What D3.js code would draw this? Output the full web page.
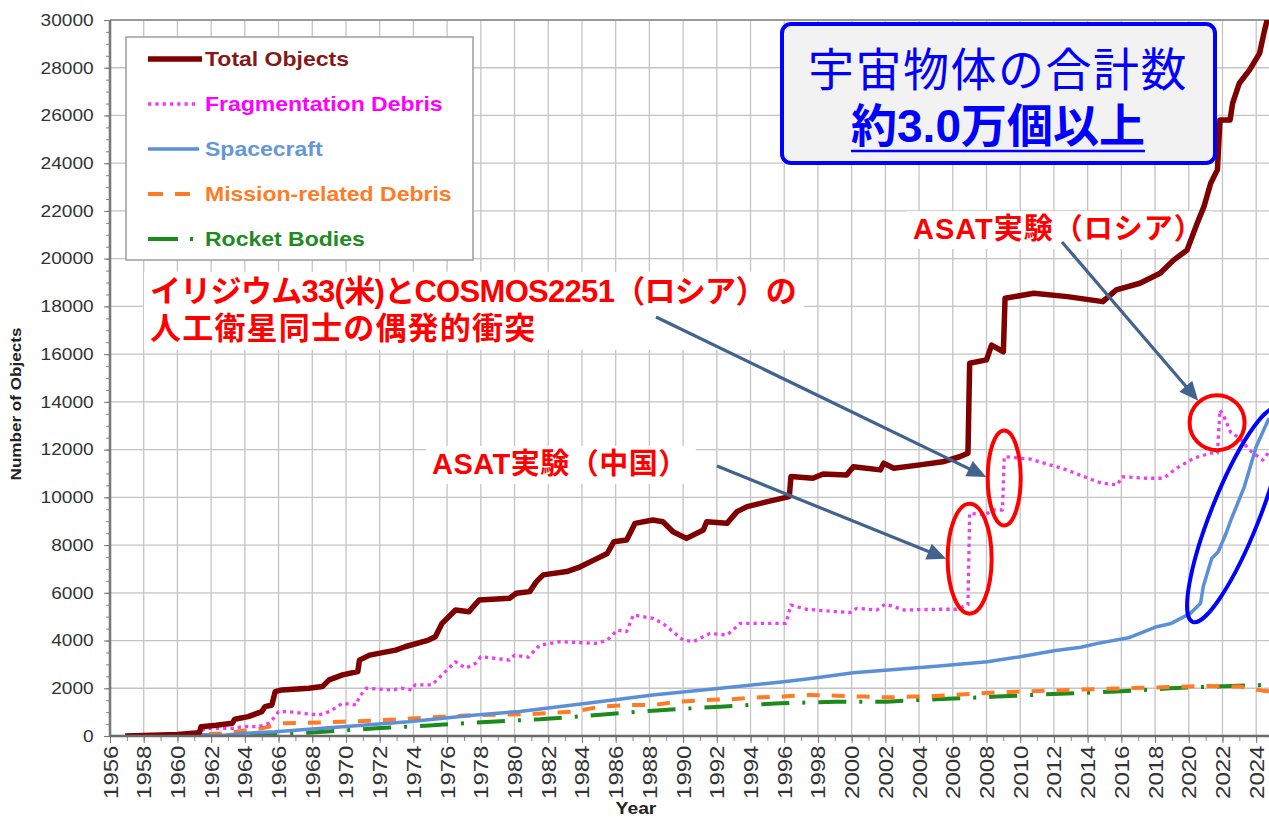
<!DOCTYPE html>
<html>
<head>
<meta charset="utf-8">
<script src="https://cdn.jsdelivr.net/npm/d3@7"></script>
<style>
  body { margin: 0; background: #fff; }
  svg { display: block; }
</style>
</head>
<body>
<div id="chart"></div>
<script>
// values: [year, number of objects]
const totalObjects = [
  [1956.9, 0], [1958.5, 30], [1960.0, 60], [1961.3, 140], [1961.4, 390], [1962.3, 450],
  [1963.25, 530], [1963.4, 700], [1964.2, 810], [1965.0, 1020], [1965.2, 1230], [1965.6, 1300],
  [1965.8, 1860], [1966.2, 1930], [1967.8, 2000], [1968.6, 2070], [1969.0, 2350], [1969.8, 2560],
  [1970.7, 2700], [1970.8, 3180], [1971.4, 3390], [1972.95, 3600], [1973.5, 3740], [1974.9, 4020],
  [1975.3, 4160], [1975.7, 4720], [1976.5, 5280], [1977.3, 5210], [1977.9, 5700], [1979.7, 5770],
  [1980.1, 5980], [1980.9, 6050], [1981.3, 6470], [1981.7, 6750], [1983.1, 6890], [1983.9, 7090],
  [1984.7, 7370], [1985.5, 7650], [1985.9, 8140], [1986.65, 8210], [1987.15, 8910], [1988.2, 9050],
  [1988.8, 8980], [1989.4, 8560], [1990.2, 8280], [1991.2, 8630], [1991.4, 8980], [1992.6, 8910],
  [1993.2, 9400], [1993.8, 9610], [1995.0, 9820], [1996.3, 10030], [1996.4, 10870], [1997.7, 10800],
  [1998.3, 10980], [1999.7, 10940], [2000.1, 11280], [2001.7, 11150], [2001.9, 11430], [2002.5, 11220],
  [2004.05, 11360], [2005.4, 11490], [2006.4, 11700], [2006.9, 11850], [2007.0, 15620], [2008.0, 15760],
  [2008.3, 16380], [2009.0, 16100], [2009.1, 18340], [2010.8, 18550], [2012.8, 18410], [2014.9, 18200],
  [2015.7, 18690], [2017.1, 18970], [2018.3, 19390], [2019.1, 19940], [2019.9, 20360], [2020.5, 21480],
  [2020.9, 22180], [2021.3, 23160], [2021.7, 23720], [2021.85, 25810], [2022.45, 25810], [2022.6, 26510],
  [2023.0, 27350], [2023.6, 27900], [2024.2, 28600], [2024.5, 29580], [2024.76, 30300]
];
const fragmentationDebris = [
  [1961.2, 0], [1961.3, 180], [1961.7, 320], [1963.3, 320], [1963.85, 390], [1964.8, 390],
  [1965.4, 530], [1965.7, 740], [1966.0, 1020], [1966.6, 1020], [1967.4, 950], [1968.4, 880],
  [1969.0, 1020], [1969.8, 1370], [1970.6, 1300], [1970.8, 1650], [1971.2, 2000], [1972.75, 1930],
  [1973.35, 2000], [1973.9, 1930], [1974.1, 2140], [1975.1, 2140], [1975.7, 2560], [1976.5, 3110],
  [1977.1, 2840], [1977.7, 3050], [1978.0, 3320], [1978.9, 3250], [1979.7, 3180], [1980.0, 3390],
  [1980.8, 3300], [1981.5, 3810], [1982.7, 3950], [1984.9, 3880], [1985.5, 4020], [1986.1, 4440],
  [1986.65, 4370], [1987.05, 5070], [1988.2, 4930], [1988.8, 4720], [1990.0, 4020], [1990.6, 3950],
  [1991.6, 4300], [1992.6, 4230], [1993.4, 4720], [1996.1, 4720], [1996.4, 5490], [1997.3, 5310],
  [1999.1, 5210], [1999.9, 5170], [2000.3, 5350], [2001.5, 5280], [2002.0, 5530], [2003.1, 5280],
  [2005.2, 5310], [2006.2, 5310], [2006.9, 5500], [2007.0, 9330], [2007.95, 9260], [2008.3, 9470],
  [2008.95, 9470], [2009.05, 11700], [2009.4, 11680], [2010.6, 11600], [2012.6, 11190], [2014.0, 10810],
  [2014.8, 10600], [2015.76, 10520], [2016.05, 10860], [2017.5, 10800], [2018.5, 10800], [2019.3, 11230],
  [2020.3, 11640], [2021.3, 11850], [2021.7, 11850], [2021.85, 13660], [2022.05, 13450], [2022.5, 12700],
  [2023.0, 12500], [2023.6, 11980], [2024.4, 11560], [2024.76, 11900]
];
const spacecraft = [
  [1957.8, 0], [1960.0, 10], [1962.9, 40], [1963.85, 110], [1965.8, 180], [1969.8, 390],
  [1973.7, 600], [1977.7, 880], [1980.3, 1030], [1984.3, 1370], [1988.2, 1720], [1992.2, 2000],
  [1996.1, 2280], [1997.7, 2420], [2000.1, 2650], [2005.2, 2930], [2008.05, 3110], [2010.0, 3320],
  [2012.0, 3570], [2013.6, 3720], [2014.6, 3880], [2016.5, 4130], [2018.1, 4580], [2018.9, 4700],
  [2020.1, 5140], [2020.7, 5560], [2020.86, 6260], [2021.36, 7440], [2021.75, 7720], [2022.25, 8560],
  [2022.5, 9050], [2023.3, 10450], [2024.0, 12120], [2024.76, 13320]
];
const missionDebris = [
  [1958.9, 0], [1962.5, 100], [1963.45, 180], [1965.0, 320], [1966.2, 530], [1968.6, 570],
  [1969.8, 600], [1971.4, 640], [1973.1, 700], [1975.7, 810], [1977.7, 880], [1979.7, 900],
  [1981.0, 920], [1983.5, 1020], [1985.1, 1230], [1986.65, 1300], [1988.2, 1300], [1989.8, 1440],
  [1991.4, 1510], [1992.8, 1540], [1994.6, 1620], [1995.9, 1650], [1997.5, 1720], [1999.1, 1690],
  [2000.7, 1650], [2002.1, 1620], [2003.7, 1650], [2005.0, 1680], [2007.0, 1760], [2008.6, 1830],
  [2011.8, 1900], [2015.1, 1980], [2018.5, 2040], [2021.1, 2100], [2023.0, 2070], [2024.4, 1900],
  [2024.76, 1870]
];
const rocketBodies = [
  [1957.5, 0], [1962.9, 40], [1965.4, 90], [1967.8, 140], [1971.8, 320], [1974.7, 430],
  [1977.7, 560], [1979.7, 640], [1981.5, 700], [1984.9, 880], [1988.2, 1060], [1992.2, 1230],
  [1995.75, 1370], [1999.1, 1440], [2002.1, 1440], [2005.0, 1540], [2008.6, 1650], [2011.95, 1760],
  [2015.7, 1860], [2018.9, 2000], [2022.45, 2100], [2024.76, 2140]
];

const seriesNames = ["Total Objects", "Fragmentation Debris", "Spacecraft", "Mission-related Debris", "Rocket Bodies"];
const yearTicks = d3.range(1956, 2025, 2);
const minorYearTicks = d3.range(1956, 2025, 1);
const countTicks = d3.range(0, 30001, 2000);
const minorCountTicks = d3.range(0, 30001, 500);

const LATIN = '"Liberation Sans", Arial, sans-serif';
// latin first so the line box keeps Liberation metrics, kana/kanji fall back to Noto CJK
const JP = '"Liberation Sans", "Noto Sans CJK JP", "Noto Sans CJK SC", sans-serif';

class DebrisChart {
    constructor(config) {
        this.config = config;
        this.svg = null;
        this.xScale = null;
        this.yScale = null;
        this.notes = null;
        this.noteBg = null;

        this.createSvg();
        this.createScales();
    }

    createSvg() {
        this.svg = d3.select(this.config.div)
            .append('svg')
            .attr('width', this.config.width)
            .attr('height', this.config.height);

        this.svg.append('defs').append('clipPath')
            .attr('id', 'plot-clip')
            .append('rect')
            .attr('x', this.config.left)
            .attr('y', this.config.top)
            .attr('width', this.config.width - this.config.left)
            .attr('height', this.config.bottom - this.config.top);
    }

    createScales() {
        this.xScale = d3.scaleLinear().domain([1956, 2024.76]).range([this.config.left, this.config.width]);
        this.yScale = d3.scaleLinear().domain([0, 30000]).range([this.config.bottom, this.config.top]);
    }

    drawGrid() {
        let g = this.svg.append('g').attr('class', 'grid');
        g.selectAll('.vgrid')
            .data(yearTicks.slice(1))
            .enter().append('line')
            .attr('x1', d => this.xScale(d)).attr('x2', d => this.xScale(d))
            .attr('y1', this.yScale(30000)).attr('y2', this.yScale(0))
            .attr('stroke', '#c4c4c4').attr('stroke-width', 1.3);
        g.selectAll('.hgrid')
            .data(countTicks.slice(1))
            .enter().append('line')
            .attr('x1', this.config.left).attr('x2', this.config.width)
            .attr('y1', d => this.yScale(d)).attr('y2', d => this.yScale(d))
            .attr('stroke', '#c4c4c4').attr('stroke-width', 1.3);
        // top frame
        g.append('line')
            .attr('x1', this.config.left).attr('x2', this.config.width)
            .attr('y1', this.yScale(30000)).attr('y2', this.yScale(30000))
            .attr('stroke', '#9a9a9a').attr('stroke-width', 2);

        // white patches behind the red notes sit under the series
        this.noteBg = this.svg.append('g').attr('class', 'note-bg');
    }

    drawAxes() {
        let x = this.xScale, y = this.yScale;

        // minor ticks first
        this.svg.append('g')
            .attr('transform', `translate(0,${y(0)})`)
            .call(d3.axisBottom(x).tickValues(minorYearTicks).tickSize(5).tickFormat(''))
            .call(g => g.select('.domain').remove())
            .selectAll('line').attr('stroke', '#888');
        this.svg.append('g')
            .attr('transform', `translate(${x(1956)},0)`)
            .call(d3.axisLeft(y).tickValues(minorCountTicks).tickSize(4).tickFormat(''))
            .call(g => g.select('.domain').remove())
            .selectAll('line').attr('stroke', '#888');

        let xAxis = this.svg.append('g')
            .attr('transform', `translate(0,${y(0)})`)
            .call(d3.axisBottom(x).tickValues(yearTicks).tickSize(7).tickFormat(d3.format('d')));
        xAxis.select('.domain').remove();
        xAxis.selectAll('line').attr('stroke', '#777');
        xAxis.selectAll('text')
            .attr('x', -8).attr('y', 0).attr('dy', '0.35em')
            .attr('text-anchor', 'end')
            .attr('transform', 'rotate(-90) scale(1.2,1)')
            .style('font-family', LATIN).style('font-size', '20px').attr('fill', '#333');

        let yAxis = this.svg.append('g')
            .attr('transform', `translate(${x(1956)},0)`)
            .call(d3.axisLeft(y).tickValues(countTicks).tickSize(6).tickFormat(d3.format('d')));
        yAxis.select('.domain').remove();
        yAxis.selectAll('line').attr('stroke', '#777');
        yAxis.selectAll('text')
            .attr('x', -14)
            .attr('transform', 'scale(1.16,1)')
            .style('font-family', LATIN).style('font-size', '16.5px').attr('fill', '#333');

        // axis lines
        this.svg.append('line')
            .attr('x1', x(1956)).attr('x2', x(1956)).attr('y1', y(30000)).attr('y2', y(0))
            .attr('stroke', '#7a7a7a').attr('stroke-width', 2.6);
        this.svg.append('line')
            .attr('x1', x(1956)).attr('x2', this.config.width).attr('y1', y(0)).attr('y2', y(0))
            .attr('stroke', '#6a6a6a').attr('stroke-width', 2.6);

        this.svg.append('text')
            .attr('transform', `translate(636,814) scale(1.17,1)`)
            .attr('text-anchor', 'middle')
            .style('font-family', LATIN).style('font-size', '16.5px').style('font-weight', 'bold')
            .attr('fill', '#222')
            .text('Year');
        this.svg.append('text')
            .attr('transform', `translate(21,404) rotate(-90) scale(1.14,1)`)
            .attr('text-anchor', 'middle')
            .style('font-family', LATIN).style('font-size', '15px').style('font-weight', 'bold')
            .attr('fill', '#222')
            .text('Number of Objects');
    }

    drawSeries(series) {
        let line = d3.line()
            .x(d => this.xScale(d[0]))
            .y(d => this.yScale(d[1]));

        this.svg.append('g')
            .attr('clip-path', 'url(#plot-clip)')
            .selectAll('path')
            .data(series.slice().reverse())
            .enter().append('path')
            .attr('d', d => line(d.values))
            .attr('fill', 'none')
            .attr('stroke', d => d.color)
            .attr('stroke-width', d => d.width)
            .attr('stroke-dasharray', d => d.dash)
            .attr('stroke-linejoin', 'round');
    }

    drawLegend(series) {
        let g = this.svg.append('g').attr('class', 'legend');
        g.append('rect')
            .attr('x', 126).attr('y', 37).attr('width', 347).attr('height', 223)
            .attr('fill', '#fff').attr('stroke', '#a3a3a3').attr('stroke-width', 1.6);

        let row = g.selectAll('.row')
            .data(series)
            .enter().append('g')
            .attr('transform', (d, i) => `translate(0,${59 + i * 45})`);
        row.append('line')
            .attr('x1', 148).attr('x2', d => d.legendEnd)
            .attr('stroke', d => d.color)
            .attr('stroke-width', d => d.width)
            .attr('stroke-dasharray', d => d.legendDash || d.dash);
        row.append('text')
            .attr('transform', 'translate(205,7) scale(1.15,1)')
            .style('font-family', LATIN).style('font-size', '20px').style('font-weight', 'bold')
            .attr('fill', d => d.textColor)
            .text(d => d.name);
    }

    drawTitle() {
        let g = this.svg.append('g').attr('class', 'title-box');
        g.append('rect')
            .attr('x', 782).attr('y', 24).attr('width', 433).attr('height', 139).attr('rx', 9)
            .attr('fill', '#f2f2f2').attr('stroke', '#0000ff').attr('stroke-width', 4);
        let t = g.append('text')
            .attr('text-anchor', 'middle')
            .style('font-family', JP).style('font-size', '46px')
            .attr('fill', '#0000ff');
        t.append('tspan')
            .attr('x', 998).attr('y', 86)
            .style('letter-spacing', '1.5px')
            .text('宇宙物体の合計数');
        let t2 = t.append('tspan')
            .attr('x', 998).attr('y', 142)
            .style('font-weight', 'bold')
            .text('約3.0万個以上');
        let len = t2.node().getComputedTextLength();
        g.append('line')
            .attr('x1', 998 - len / 2).attr('x2', 998 + len / 2)
            .attr('y1', 151).attr('y2', 151)
            .attr('stroke', '#0000ff').attr('stroke-width', 2.6);
    }

    note(lines, x, y0, size, gap, spacing) {
        let t = this.notes.append('text')
            .style('font-family', JP).style('font-size', size + 'px').style('font-weight', 'bold')
            .attr('fill', '#ff0000');
        lines.forEach((s, i) => {
            t.append('tspan')
                .attr('x', x).attr('y', y0 + i * gap + size * 0.38)
                .style('letter-spacing', (spacing ? spacing[i] : 0) + 'px')
                .text(s);
        });
        let b = t.node().getBBox();
        this.noteBg.append('rect')
            .attr('x', b.x - 6).attr('y', b.y - 2).attr('width', b.width + 14).attr('height', b.height + 6)
            .attr('fill', '#fff');
    }

    arrow(x1, y1, x2, y2) {
        let a = Math.atan2(y2 - y1, x2 - x1), len = 19, half = 8.5;
        let bx = x2 - len * Math.cos(a), by = y2 - len * Math.sin(a);
        this.notes.append('line')
            .attr('x1', x1).attr('y1', y1).attr('x2', bx + 2 * Math.cos(a)).attr('y2', by + 2 * Math.sin(a))
            .attr('stroke', '#41648f').attr('stroke-width', 3.2);
        this.notes.append('path')
            .attr('d', `M${x2},${y2}L${bx + half * Math.sin(a)},${by - half * Math.cos(a)}L${bx - half * Math.sin(a)},${by + half * Math.cos(a)}Z`)
            .attr('fill', '#41648f');
    }

    drawNotes() {
        let x = this.xScale, y = this.yScale;
        this.notes = this.svg.append('g').attr('class', 'notes');

        this.note(['イリジウム33(米)とCOSMOS2251（ロシア）の', '人工衛星同士の偶発的衝突'], 150, 290, 31, 37, [-0.7, 1.2]);
        this.note(['ASAT実験（中国）'], 432, 463, 29, 0, [0.5]);
        this.note(['ASAT実験（ロシア）'], 913, 228, 29, 0, [1]);

        // marked events
        let china = { cx: x(2007.0), cy: y(7430), rx: 22, ry: 55 };
        let iridium = { cx: x(2009.05), cy: y(10810), rx: 16.5, ry: 47.5 };
        let russia = { cx: x(2021.68), cy: y(13130), rx: 27.5, ry: 27.5 };
        let surge = { cx: x(2022.75), cy: y(9260), rx: 115, ry: 24 };

        [china, iridium, russia].forEach(e => {
            this.notes.append('ellipse')
                .attr('cx', e.cx).attr('cy', e.cy).attr('rx', e.rx).attr('ry', e.ry)
                .attr('fill', 'none').attr('stroke', '#ff0000').attr('stroke-width', 4);
        });
        this.notes.append('ellipse')
            .attr('cx', 0).attr('cy', 0).attr('rx', surge.rx).attr('ry', surge.ry)
            .attr('transform', `translate(${surge.cx},${surge.cy}) rotate(-68.3)`)
            .attr('fill', 'none').attr('stroke', '#0000ff').attr('stroke-width', 4);

        this.arrow(656, 317, iridium.cx - iridium.rx - 1.5, iridium.cy - 1);
        this.arrow(717, 466, china.cx - china.rx - 1.5, china.cy);
        let sx = 1062, sy = 242;
        let dx = russia.cx - sx, dy = russia.cy - sy, d = Math.hypot(dx, dy);
        this.arrow(sx, sy, russia.cx - (russia.rx + 1.5) * dx / d, russia.cy - (russia.rx + 1.5) * dy / d);
    }

    render(series) {
        this.drawGrid();
        this.drawSeries(series);
        this.drawAxes();
        this.drawLegend(series);
        this.drawTitle();
        this.drawNotes();
    }
}

const series = [
    { name: seriesNames[0], values: totalObjects, color: '#7f0000', textColor: '#861818', width: 5.5, dash: null, legendEnd: 202 },
    { name: seriesNames[1], values: fragmentationDebris, color: '#ee3fee', textColor: '#ff00ff', width: 3.3, dash: '3.3,4', legendEnd: 199 },
    { name: seriesNames[2], values: spacecraft, color: '#5b8fd8', textColor: '#6598d8', width: 3.5, dash: null, legendEnd: 199 },
    { name: seriesNames[3], values: missionDebris, color: '#ff7b25', textColor: '#ff7b25', width: 4, dash: '13,12', legendDash: '15,12', legendEnd: 200 },
    { name: seriesNames[4], values: rocketBodies, color: '#1d8a1d', textColor: '#218a21', width: 4, dash: '28,13,3,13', legendDash: '30,12,3,20', legendEnd: 194 }
];

let chart = new DebrisChart({ div: '#chart', width: 1269, height: 817, left: 110, top: 20, bottom: 736 });
chart.render(series);
</script>
</body>
</html>
